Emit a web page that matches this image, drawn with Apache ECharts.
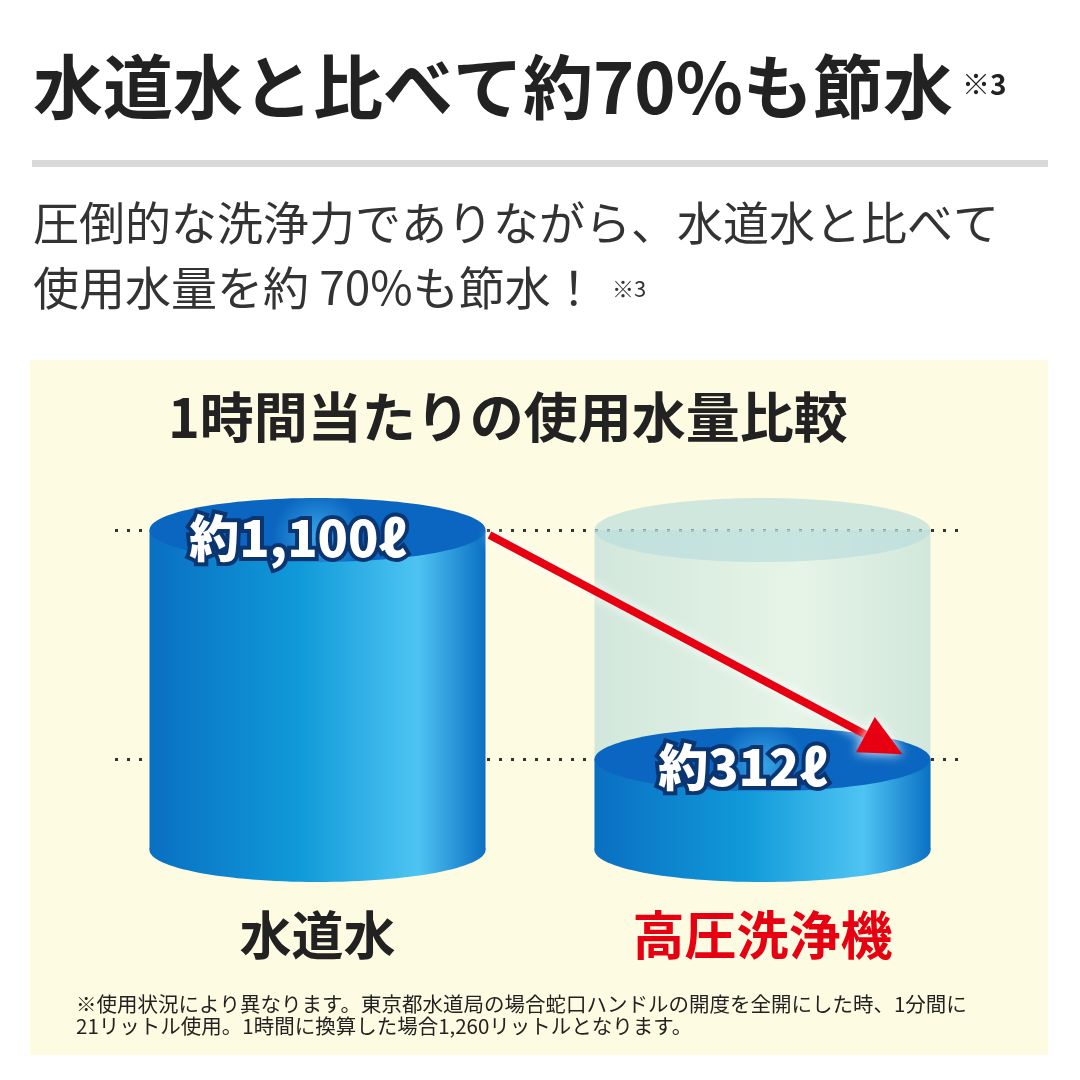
<!DOCTYPE html>
<html>
<head>
<meta charset="utf-8">
<title>使用水量比較</title>
<script src="https://cdn.jsdelivr.net/npm/echarts@6/dist/echarts.min.js"></script>
<style>
html,body{margin:0;padding:0;background:#fff;}
#main{width:1080px;height:1080px;}
</style>
</head>
<body>
<div id="main"></div>
<script>
// データ
var categories = ['水道水', '高圧洗浄機'];
var values = [1100, 312];
var valueLabels = ['約1,100ℓ', '約312ℓ'];
var refLevel = [1100, 1100];   // 比較用の透明な円柱（水道水の量）
var catColors = ['#222222', '#e60012'];

var chart = echarts.init(document.getElementById('main'));
var font = '"Noto Sans CJK JP","Noto Sans",sans-serif';

var RX = 168, RY = 32;

function cylinder(params, api, ghost) {
  var i = api.value(0), v = api.value(1);
  var top = api.coord([i, v]);
  var bot = api.coord([i, 0]);
  var cx = top[0];
  var body, topFill;
  if (ghost) {
    body = new echarts.graphic.LinearGradient(0, 0, 1, 0, [
      {offset: 0, color: 'rgba(175,215,215,0.55)'},
      {offset: 0.6, color: 'rgba(215,240,235,0.6)'},
      {offset: 1, color: 'rgba(175,215,215,0.55)'}]);
    topFill = 'rgba(185,220,220,0.65)';
  } else {
    body = new echarts.graphic.LinearGradient(0, 0, 1, 0, [
      {offset: 0, color: '#0a6fc2'},
      {offset: 0.45, color: '#109ad9'},
      {offset: 0.8, color: '#4ec4f2'},
      {offset: 1, color: '#0b70c4'}]);
    topFill = new echarts.graphic.RadialGradient(0.5, 0.6, 0.7, [
      {offset: 0, color: '#3aa6e6'},
      {offset: 1, color: '#0a66c0'}]);
  }
  var children = [
    {type: 'ellipse', shape: {cx: cx, cy: bot[1], rx: RX, ry: RY}, style: {fill: body}},
    {type: 'rect', shape: {x: cx - RX, y: top[1], width: RX * 2, height: bot[1] - top[1]}, style: {fill: body}},
    {type: 'ellipse', shape: {cx: cx, cy: top[1], rx: RX, ry: RY}, style: {fill: topFill}}
  ];
  if (!ghost) {
    children.push({type: 'text', style: {
      x: cx - 20, y: top[1] + 8, text: valueLabels[params.dataIndex], align: 'center', verticalAlign: 'middle',
      font: '900 50px ' + font, fill: '#fff', stroke: '#0b3570', lineWidth: 8
    }});
  }
  return {type: 'group', children: children};
}

var option = {
  backgroundColor: '#fff',
  grid: {left: 95, right: 95, top: 530, bottom: 230},
  xAxis: {type: 'category', data: categories, show: false},
  yAxis: {type: 'value', min: 0, max: 1100, show: false},
  graphic: [
    {type: 'text', left: 33, top: 52, style: {text: '水道水と比べて約70%も節水', font: 'bold 70px ' + font, fill: '#222'}},
    {type: 'text', left: 962, top: 70, style: {text: '※3', font: 'bold 28px ' + font, fill: '#222'}},
    {type: 'rect', shape: {x: 32, y: 160, width: 1016, height: 7}, style: {fill: '#d9d9d9'}},
    {type: 'text', left: 33, top: 200, style: {text: '圧倒的な洗浄力でありながら、水道水と比べて', font: '46px ' + font, fill: '#333'}},
    {type: 'text', left: 33, top: 265, style: {text: '使用水量を約 70%も節水！', font: '46px ' + font, fill: '#333'}},
    {type: 'text', left: 612, top: 278, style: {text: '※3', font: '22px ' + font, fill: '#333'}},
    {type: 'rect', z: -10, shape: {x: 30, y: 360, width: 1018, height: 695}, style: {fill: '#fdfbe1'}},
    {type: 'text', left: 168, top: 390, style: {text: '1時間当たりの使用水量比較', font: 'bold 54px ' + font, fill: '#222'}},
    {type: 'text', left: 76, top: 993, style: {text: '※使用状況により異なります。東京都水道局の場合蛇口ハンドルの開度を全開にした時、1分間に\n21リットル使用。1時間に換算した場合1,260リットルとなります。', font: '20.5px ' + font, fill: '#222', lineHeight: 22}}
  ],
  series: [
    {
      type: 'line', z: 1, data: values, symbol: 'none', lineStyle: {opacity: 0}, silent: true,
      markLine: {
        symbol: 'none', silent: true, label: {show: false}, z: 1,
        lineStyle: {type: [3, 9], color: '#333', width: 3},
        data: [[{coord: [-0.5, 1100], x: 115}, {coord: [1.5, 1100], x: 965}],
               [{coord: [-0.5, 312], x: 115}, {coord: [1.5, 312], x: 965}]]
      }
    },
    {type: 'custom', z: 2, data: refLevel.map(function (v, i) { return [i, i === 1 ? v : 0]; }),
      renderItem: function (p, api) { return api.value(1) ? cylinder(p, api, true) : null; }},
    {type: 'custom', z: 3, data: values.map(function (v, i) { return [i, v]; }),
      renderItem: function (p, api) { return cylinder(p, api, false); }}
  ]
};
chart.setOption(option);

// カテゴリ名と矢印は軸の座標から配置
var g = option.graphic.slice();
var p0 = chart.convertToPixel({seriesIndex: 2}, [0, values[0]]);
var p1 = chart.convertToPixel({seriesIndex: 2}, [1, values[1]]);
var base = chart.convertToPixel({seriesIndex: 2}, [0, 0])[1];
categories.forEach(function (c, i) {
  var x = chart.convertToPixel({seriesIndex: 2}, [i, 0])[0];
  g.push({type: 'text', z: 10, x: x, y: base + 85, style: {text: c, font: 'bold 52px ' + font, fill: catColors[i], align: 'center', verticalAlign: 'middle'}});
});
var a = [p0[0] + 172, p0[1] + 5], b = [p1[0] + 140, p1[1] - 5];
var ang = Math.atan2(b[1] - a[1], b[0] - a[0]);
var hl = 42, hw = 20;
var base2 = [b[0] - hl * Math.cos(ang), b[1] - hl * Math.sin(ang)];
g.push({type: 'line', z: 20, shape: {x1: a[0], y1: a[1], x2: base2[0], y2: base2[1]},
  style: {stroke: '#e60012', lineWidth: 8, shadowBlur: 12, shadowColor: '#fff'}});
g.push({type: 'polygon', z: 20, shape: {points: [b,
  [base2[0] + hw * Math.sin(ang), base2[1] - hw * Math.cos(ang)],
  [base2[0] - hw * Math.sin(ang), base2[1] + hw * Math.cos(ang)]]},
  style: {fill: '#e60012', shadowBlur: 12, shadowColor: '#fff'}});
chart.setOption({graphic: g});
</script>
</body>
</html>
